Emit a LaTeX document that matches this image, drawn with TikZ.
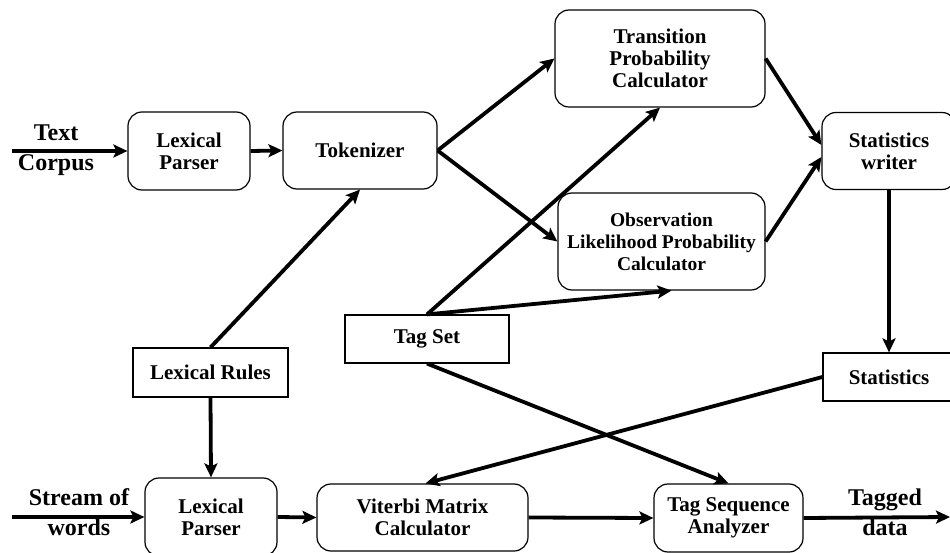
\documentclass[tikz,border=0pt]{standalone}
\usepackage{fontspec}
\setmainfont{Liberation Serif}
\usetikzlibrary{arrows.meta}
\tikzset{every scope/.style={>={Stealth[length=14pt,width=13pt,inset=3pt]},line width=3.8pt},
  block/.style={draw,line width=1.2pt,rounded corners=14pt,align=center,inner sep=2pt,
    font=\fontsize{21}{22}\selectfont\bfseries},
  plain/.style={block,rounded corners=0pt},
  ioname/.style={align=center,inner sep=0pt,font=\fontsize{24}{30}\selectfont\bfseries}}

\begin{document}
\begin{tikzpicture}[x=1pt,y=-1pt]
    \useasboundingbox (0,0) rectangle (950,553);
    \clip (0,0) rectangle (950,553);
    \begin{scope}
      % training part
      \node[ioname] (corpus) at (56,150) {Text\\Corpus};
      \coordinate (cin) at (12,151);
      \node[block,minimum width=122,minimum height=78] (lp1) at (189,151) {Lexical\\Parser};
      \node[block,minimum width=154,minimum height=77] (tok) at (360,150.5) {Tokenizer};
      \node[block,minimum width=210,minimum height=97] (trans) at (660,58.5) {Transition\\Probability\\Calculator};
      \node[block,minimum width=207,minimum height=97,font=\fontsize{19.5}{22}\selectfont\bfseries] (obs) at (661.5,241.5) {Observation\\Likelihood Probability\\Calculator};
      \node[block,minimum width=134,minimum height=77] (sw) at (889,151) {Statistics\\writer};
      \node[plain,minimum width=164,minimum height=48] (tagset) at (427,339) {Tag Set};
      \node[plain,minimum width=155,minimum height=49] (rules) at (210.5,372.5) {Lexical Rules};
      \node[plain,minimum width=132,minimum height=48] (stats) at (889,377) {Statistics};

      % tagging part
      \node[ioname] (stream) at (79,512) {Stream of\\words};
      \coordinate (sin) at (12,517);
      \node[block,minimum width=132,minimum height=78] (lp2) at (211,517) {Lexical\\Parser};
      \node[block,minimum width=211,minimum height=67] (vit) at (422.5,517.5) {Viterbi Matrix\\Calculator};
      \node[block,minimum width=149,minimum height=68] (tseq) at (728.5,518) {Tag Sequence\\Analyzer};
      \node[ioname] (tagged) at (885,512) {Tagged\\data};
      \coordinate (tout) at (950,517);

      \draw[->] (cin) -- (lp1.west);
      \draw[->] (lp1.east) -- (tok.west);
      \draw[->] (tok.east) -- (trans.west);
      \draw[->] (tok.east) -- (obs.west);
      \draw[->] (trans.east) -- ([yshift=6pt]sw.west);
      \draw[->] (obs.east) -- ([yshift=-6pt]sw.west);
      \draw[->] (sw.south) -- (stats.north);
      \draw[->] (tagset.north) -- (trans.south);
      \draw[->] (tagset.north) -- ([xshift=10pt]obs.south);
      \draw[->] (rules.north) -- (tok.south);
      \draw[->] (rules.south) -- (lp2.north);
      \draw[->] (stats.west) -- ([xshift=3pt]vit.north);
      \draw[->] (tagset.south) -- (tseq.north);
      \draw[->] (sin) -- (lp2.west);
      \draw[->] (lp2.east) -- (vit.west);
      \draw[->] (vit.east) -- (tseq.west);
      \draw[->] (tseq.east) -- (tout);
    \end{scope}
\end{tikzpicture}
\end{document}
